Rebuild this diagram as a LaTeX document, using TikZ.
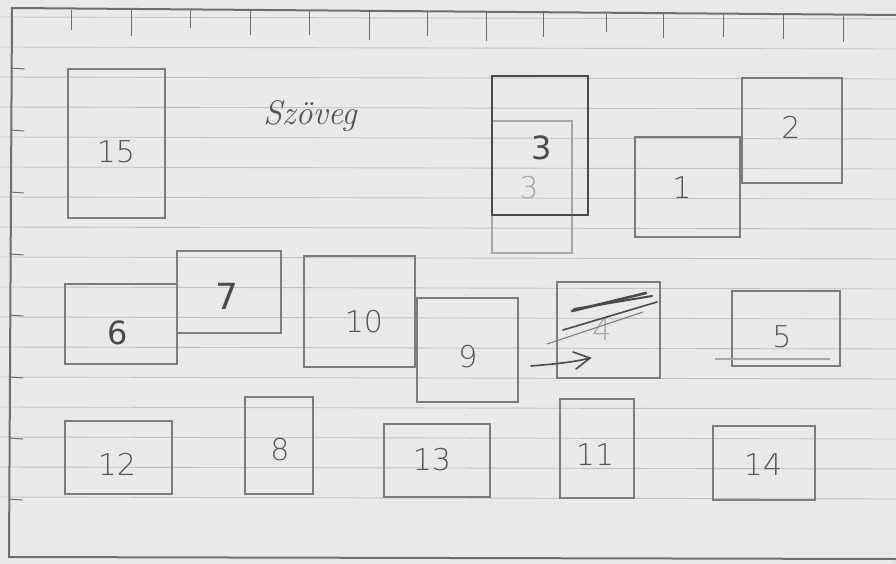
\documentclass[tikz,border=0pt]{standalone}
\usepackage{fontspec}
\setsansfont{DejaVu Sans}
\begin{document}
\begin{tikzpicture}[x=1pt,y=-1pt,
  paper/.style={fill=paperbg,draw=none},
  rule/.style={draw=ruleline,line width=0.9pt},
  frame/.style={draw=framecol,line width=2pt,line cap=round},
  tick/.style={draw=framecol,line width=1pt},
  box/.style={draw=boxcol,line width=1.5pt,inner sep=0pt,outer sep=0pt,rectangle},
  darkbox/.style={box,draw=darkcol,line width=2.6pt},
  faintbox/.style={box,draw=faintcol,line width=1.1pt},
  lbl/.style={text=txtcol,font=\sffamily\fontsize{30}{30}\selectfont\ExtraLight,inner sep=0pt},
  scribble/.style={draw=darkcol,line cap=round},
]
\newfontface\ExtraLight{DejaVu Sans ExtraLight}
\definecolor{paperbg}{HTML}{E9E9E9}
\definecolor{ruleline}{HTML}{C2C2C2}
\definecolor{framecol}{HTML}{6E6E6E}
\definecolor{boxcol}{HTML}{7C7C7C}
\definecolor{darkcol}{HTML}{4A4A4A}
\definecolor{faintcol}{HTML}{A6A6A6}
\definecolor{txtcol}{HTML}{555555}
\newcommand\skbox[6]{\node[#6,minimum width={#4-#2},minimum height={#5-#3}] (#1) at ({(#2+#4)/2},{(#3+#5)/2}) {};}
% paper
\useasboundingbox (0,0) rectangle (896,564);
\fill[paperbg] (0,0) rectangle (896,564);
\foreach \k in {0,...,16} {\draw[rule] (0,{17+30*\k}) -- (896,{19+30*\k});}
% frame
\coordinate (tl) at (12,8);
\coordinate (tr) at (896,15);
\coordinate (bl) at (9,557);
\coordinate (br) at (896,559);
\draw[frame] (tr) -- (tl) -- (bl) -- (br);
\foreach \x/\l in {71/20,131/26,190/18,250/24,309/24,369/28,427/24,486/28,543/24,606/18,663/24,723/22,783/24,843/26}
  {\draw[tick] (\x,{9+\x*0.0079}) -- ++(0,\l);}
\foreach \y in {68,130,192,254,315,377,438,499}
  {\draw[tick] ({11-\y*0.005},\y) -- ++(14,1);}
% boxes
\skbox{b15}{68}{69}{165}{218}{box}
\node[lbl] (l15) at (116,152) {15};
\node[text=txtcol,font=\rmfamily\itshape\fontsize{34}{34}\selectfont,inner sep=0pt] (szoveg) at (310,116) {Szöveg};
\skbox{b3i}{492}{121}{572}{253}{faintbox}
\node[lbl,text=faintcol] (l3i) at (529,188) {3};
\skbox{b3}{492}{76}{588}{215}{darkbox}
\node[lbl,text=darkcol,font=\sffamily\fontsize{32}{32}\selectfont] (l3) at (542,148) {3};
\skbox{b1}{635}{137}{740}{237}{box}
\node[lbl] (l1) at (682,188) {1};
\skbox{b2}{742}{78}{842}{183}{box}
\node[lbl] (l2) at (791,127) {2};
\skbox{b6}{65}{284}{177}{364}{box}
\node[lbl,text=darkcol,font=\sffamily\fontsize{32}{32}\selectfont] (l6) at (118,333) {6};
\skbox{b7}{177}{251}{281}{333}{box}
\node[lbl,text=darkcol,font=\sffamily\fontsize{36}{36}\selectfont] (l7) at (227,296) {7};
\skbox{b10}{304}{256}{415}{367}{box}
\node[lbl] (l10) at (364,322) {10};
\skbox{b9}{417}{298}{518}{402}{box}
\node[lbl] (l9) at (468,357) {9};
\skbox{b4}{557}{282}{660}{378}{box}
\node[lbl,text=faintcol] (l4) at (602,330) {4};
\draw[scribble,line width=2.6pt] (572,311) -- (646,293);
\draw[scribble,line width=2pt] (574,309) -- (652,296);
\draw[scribble,line width=1.6pt] (563,330) -- (657,302);
\draw[scribble,draw=boxcol,line width=1pt] (547,344) -- (643,312);
\coordinate (arrS) at (531,366);
\coordinate (arrE) at (590,358);
\draw[scribble,line width=1.6pt] (arrS) .. controls (555,364) and (575,362) .. (arrE);
\draw[scribble,line width=1.6pt] (573,352) -- (arrE) -- (576,369);
\skbox{b5}{732}{291}{840}{366}{box}
\draw[draw=faintcol,line width=1.2pt] (715,359) -- (830,359);
\node[lbl] (l5) at (782,337) {5};
\skbox{b12}{65}{421}{172}{494}{box}
\node[lbl] (l12) at (117,464) {12};
\skbox{b8}{245}{397}{313}{494}{box}
\node[lbl] (l8) at (280,450) {8};
\skbox{b13}{384}{424}{490}{497}{box}
\node[lbl] (l13) at (432,460) {13};
\skbox{b11}{560}{399}{634}{498}{box}
\node[lbl] (l11) at (595,455) {11};
\skbox{b14}{713}{426}{815}{500}{box}
\node[lbl] (l14) at (763,465) {14};
\end{tikzpicture}
\end{document}
